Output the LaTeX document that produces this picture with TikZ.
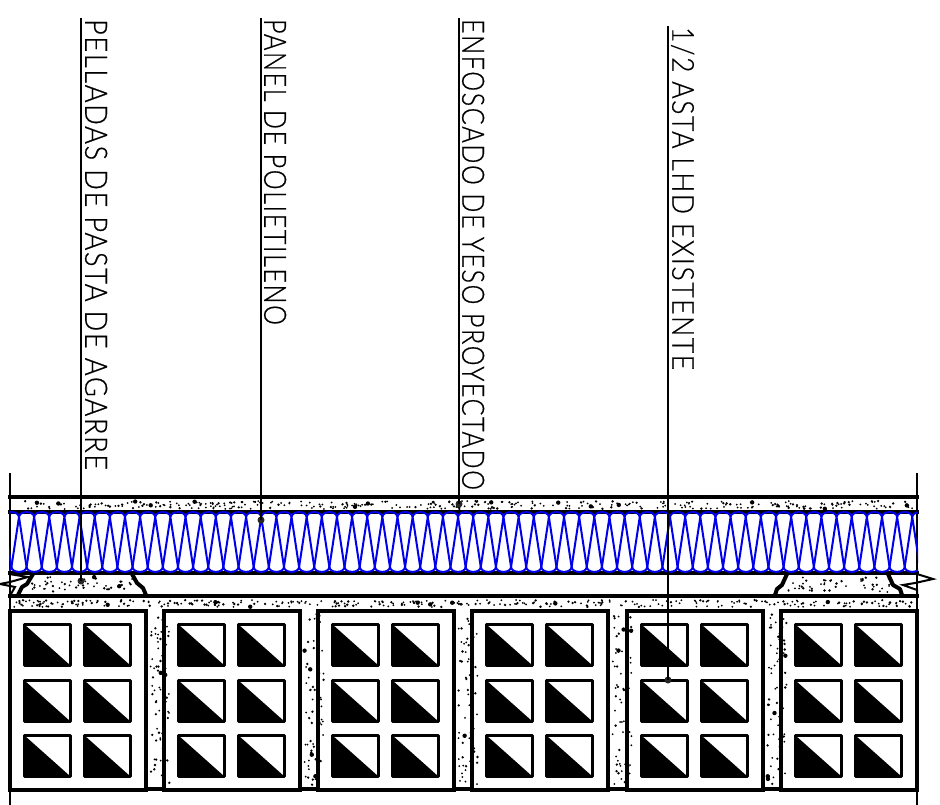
\documentclass[tikz,border=0pt]{standalone}
\usepackage{graphicx}
\usepackage{fontspec}
\setmainfont{Lato}[UprightFont=* Light,FakeBold=0.6,LetterSpace=6]
\definecolor{insblue}{RGB}{0,0,235}
\newcommand{\stipplebox}[5]{%
  \foreach \i in {1,...,#5}{%
    \pgfmathsetmacro\rx{#1+rnd*(#2-#1)}%
    \pgfmathsetmacro\ry{#3+rnd*(#4-#3)}%
    \pgfmathsetmacro\rq{rnd}%
    \pgfmathsetmacro\rr{\rq<0.03?2.2:(\rq<0.35?1.3:1.0)}%
    \fill (\rx,\ry) circle[radius=\rr pt];
  }%
}
\newcommand{\brick}[1]{%
  \begin{scope}[shift={(#1,0)}]
    \draw[brickline] (0,610.5) rectangle (136,790);
    \foreach \hx in {14.5,74.5}{\foreach \hy in {624.5,680.5,735.5}{%
      \draw[holeline,fill=white] (\hx,\hy) rectangle ++(46,41);
      \fill (\hx,\hy) -- (\hx+46,\hy+41) -- (\hx,\hy+41) -- cycle;
    }}
  \end{scope}
}
\tikzset{
  brickline/.style={line width=4pt,line join=miter},
  holeline/.style={line width=3.2pt,line join=round},
  layerline/.style={line width=4pt},
  leader/.style={line width=2pt},
  leaderdot/.style={circle,fill=black!85,inner sep=0pt,minimum size=7pt},
  calloutlabel/.style={rotate=-90,anchor=south west,inner sep=0pt,outer sep=0pt},
  blobline/.style={line width=4pt,line join=round},
  breakline/.style={line width=2pt,line join=miter},
}
\begin{document}
\begin{tikzpicture}[x=1pt,y=-1pt]
\useasboundingbox (0,0) rectangle (940,805);
\pgfmathsetseed{90731}
% side lines
\draw[leader] (10,473) -- (10,805);
\draw[leader] (917,473) -- (917,805);
% mortar between bricks
\foreach \mx in {146,300,454,608,763}{
  \draw[line width=3.5pt] (\mx,789) -- (\mx+18,789);
}
% layers
\draw[layerline] (8,497) -- (919,497);
\draw[layerline] (8,512) -- (919,512);
\draw[layerline] (8,573) -- (919,573);
\draw[layerline] (8,596) -- (919,596);
% stipple
\stipplebox{12}{916}{501}{509}{340}
\stipplebox{12}{916}{600}{607}{340}
\foreach \mx in {146,300,454,608,763}{
  \stipplebox{\mx+4.5}{\mx+14.5}{613}{785}{65}
}
\stipplebox{32}{134}{577}{592}{48}
\stipplebox{788}{892}{577}{592}{48}
% plaster blobs
\draw[blobline] (33,574) -- (27,584) -- (22,587) -- (18,595);
\draw[blobline] (132,574) -- (137,583) -- (143,588) -- (146,595);
\draw[blobline] (787,574) -- (782,585) -- (777,589) -- (775,595);
\draw[blobline] (888,574) -- (893,585) -- (900,589) -- (902,595);
% break marks
\draw[breakline] (9,574) -- (28,577) -- (10,582) -- (0,584) -- (15,587) -- (11,594);
\draw[breakline] (917,574) -- (933,579) -- (915,583) -- (903,585) -- (917,590) -- (917,595);
% insulation
\begin{scope}
  \clip (9,505) rectangle (918,580);
  \foreach \k in {-1,...,60}{
    \pgfmathsetmacro\tx{19+15.14*\k}
    \pgfmathsetmacro\txb{\tx+15.14}
    \pgfmathsetmacro\bx{\tx-7.57}
    \pgfmathsetmacro\bxb{\bx+15.14}
    \draw[insblue,line width=2pt,line join=round]
      (\tx,517) .. controls (\tx+0.5,510.5) and (\txb-0.5,510.5) .. (\txb,517)
      (\tx,517) -- (\bx,567) (\tx,517) -- (\bxb,567)
      (\bx,567) .. controls (\bx+0.5,573.5) and (\bxb-0.5,573.5) .. (\bxb,567);
  }
\end{scope}
% bricks
\foreach \bx in {10,164,318,472,627,781}{\brick{\bx}}
% callouts
\coordinate (a0) at (81,18);
\coordinate (b0) at (261,18);
\coordinate (c0) at (459,18);
\coordinate (d0) at (668,26);
\node[leaderdot] (adot) at (81,581) {};
\node[leaderdot] (bdot) at (261,520) {};
\node[leaderdot] (cdot) at (459,504) {};
\node[leaderdot] (ddot) at (668,680) {};
\draw[leader] (a0) -- (adot.center);
\draw[leader] (b0) -- (bdot.center);
\draw[leader] (c0) -- (cdot.center);
\draw[leader] (d0) -- (ddot.center);
\node[calloutlabel] (atext) at (85,19) {\resizebox{451pt}{22pt}{PELLADAS DE PASTA DE AGARRE}};
\node[calloutlabel] (btext) at (264,19) {\resizebox{306pt}{22pt}{PANEL DE POLIETILENO}};
\node[calloutlabel] (ctext) at (462,19) {\resizebox{471pt}{22pt}{ENFOSCADO DE YESO PROYECTADO}};
\node[calloutlabel] (dtext) at (671,27) {\resizebox{343pt}{22pt}{1/2 ASTA LHD EXISTENTE}};
\end{tikzpicture}
\end{document}
